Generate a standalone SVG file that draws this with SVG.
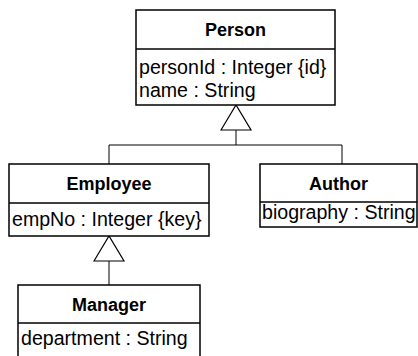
<svg xmlns="http://www.w3.org/2000/svg" width="418" height="356" viewBox="0 0 418 356">
  <style>
    .box { fill: #ffffff; stroke: #000000; stroke-width: 1.5; }
    .sep { stroke: #000000; stroke-width: 1.5; }
    .title { font-family: "Liberation Sans", Arial, sans-serif; font-size: 18px; font-weight: bold; text-anchor: middle; fill: #000000; }
    .attr { font-family: "Liberation Sans", Arial, sans-serif; font-size: 19.6px; fill: #000000; }
    .link { fill: none; stroke: #000000; stroke-width: 1; }
  </style>
  <defs>
    <!-- hollow generalization arrowhead -->
    <marker id="gen" viewBox="0 0 25 30" refX="25" refY="15" markerWidth="25" markerHeight="30" markerUnits="userSpaceOnUse" orient="auto" overflow="visible">
      <path d="M0,0 L25,15 L0,30 Z" fill="#ffffff" stroke="#000000" stroke-width="1.2"/>
    </marker>
  </defs>

  <g id="connectors">
    <path class="link" d="M109,164 V145 H342 V164"/>
    <path class="link" d="M236,145 V105" marker-end="url(#gen)"/>
    <path class="link" d="M109,285 V236" marker-end="url(#gen)"/>
  </g>

  <g id="person">
    <rect class="box" x="136" y="10" width="199" height="95"/>
    <line class="sep" x1="136" y1="49" x2="335" y2="49"/>
    <text class="title" x="235.5" y="36">Person</text>
    <text class="attr" x="139" y="74">personId : Integer {id}</text>
    <text class="attr" x="139" y="97">name : String</text>
  </g>

  <g id="employee">
    <rect class="box" x="9" y="164" width="200" height="72"/>
    <line class="sep" x1="9" y1="203" x2="209" y2="203"/>
    <text class="title" x="109" y="190">Employee</text>
    <text class="attr" x="12" y="226">empNo : Integer {key}</text>
  </g>

  <g id="author">
    <rect class="box" x="260" y="164" width="157" height="63"/>
    <line class="sep" x1="260" y1="202" x2="417" y2="202"/>
    <text class="title" x="338.5" y="190">Author</text>
    <text class="attr" x="262" y="219">biography : String</text>
  </g>

  <g id="manager">
    <rect class="box" x="18" y="285" width="182" height="80"/>
    <line class="sep" x1="18" y1="323" x2="200" y2="323"/>
    <text class="title" x="109" y="311">Manager</text>
    <text class="attr" x="21" y="345">department : String</text>
  </g>
</svg>
